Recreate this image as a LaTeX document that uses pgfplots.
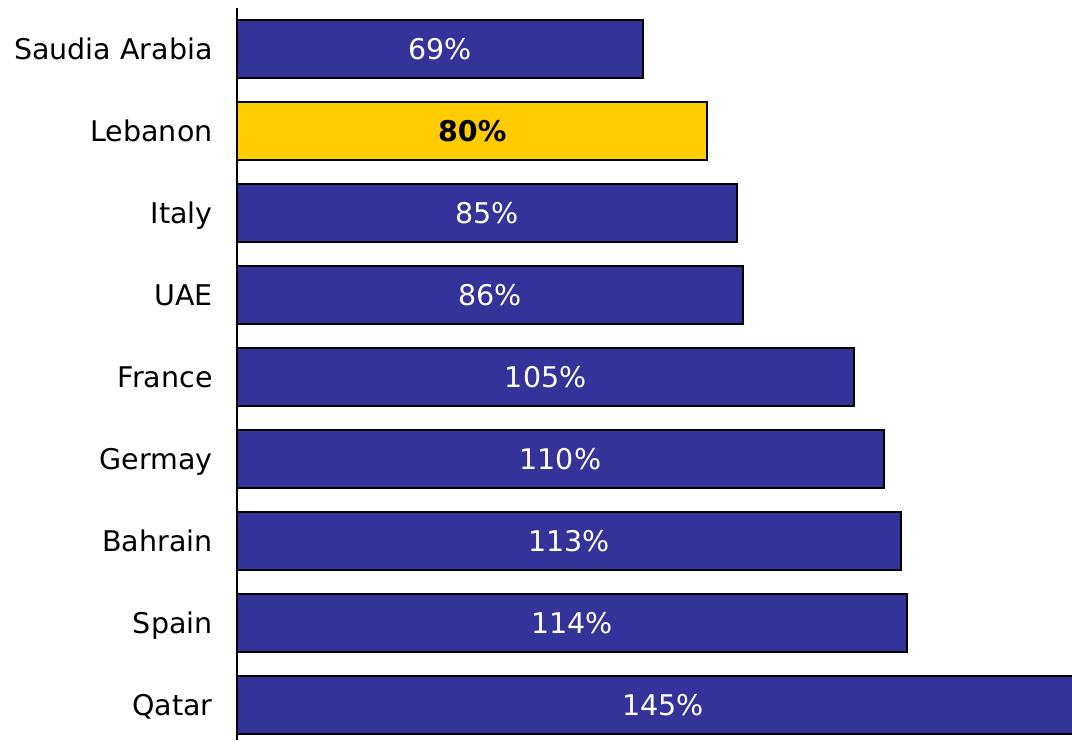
\documentclass[border=0pt]{standalone}
\usepackage{fontspec}
\setmainfont{DejaVu Sans}
\usepackage{pgfplots}
\pgfplotsset{compat=1.18}
\definecolor{barblue}{RGB}{51,51,153}
\definecolor{baryellow}{RGB}{255,204,0}
\begin{document}
\begin{tikzpicture}
\begin{axis}[
  at={(237pt,0pt)}, anchor=south west,
  scale only axis, width=835pt, height=732pt,
  xmin=0, xmax=142, ymin=-0.5, ymax=8.43, y dir=reverse,
  axis x line=none, axis y line*=left,
  axis line style={line width=1.8pt, black},
  ytick={0,...,8},
  yticklabels={Saudia Arabia,Lebanon,Italy,UAE,France,Germay,Bahrain,Spain,Qatar},
  ytick style={draw=none},
  yticklabel style={font=\fontsize{28.5}{34}\selectfont, inner sep=0pt, anchor=base east, xshift=-20pt, yshift=-10.5pt},
  xbar, bar width=58pt, bar shift=0pt,
]
\addplot[fill=barblue, draw=black, line width=2pt] coordinates {
  (69,0) (85,2) (86,3) (105,4) (110,5) (113,6) (114,7) (145,8)};
\addplot[fill=baryellow, draw=black, line width=2pt] coordinates {(80,1)};
\addplot[xbar=false, draw=none, mark=none, only marks, point meta=explicit symbolic,
  nodes near coords={\pgfplotspointmeta\%},
  nodes near coords style={anchor=base, yshift=-10.5pt, inner sep=0pt, text=white, font=\fontsize{28.5}{34}\selectfont}]
  table[meta=lab] {
x y lab
34.5 0 69
42.5 2 85
43 3 86
52.5 4 105
55 5 110
56.5 6 113
57 7 114
72.5 8 145
};
\addplot[xbar=false, draw=none, mark=none, only marks, point meta=explicit symbolic,
  nodes near coords={\pgfplotspointmeta\%},
  nodes near coords style={anchor=base, yshift=-10.5pt, inner sep=0pt, text=black, font=\fontsize{28.5}{34}\selectfont\bfseries}]
  table[meta=lab] {
x y lab
40 1 80
};
\end{axis}
\pgfresetboundingbox
\path (0pt,0pt) rectangle (1072pt,740pt);
\end{tikzpicture}
\end{document}
